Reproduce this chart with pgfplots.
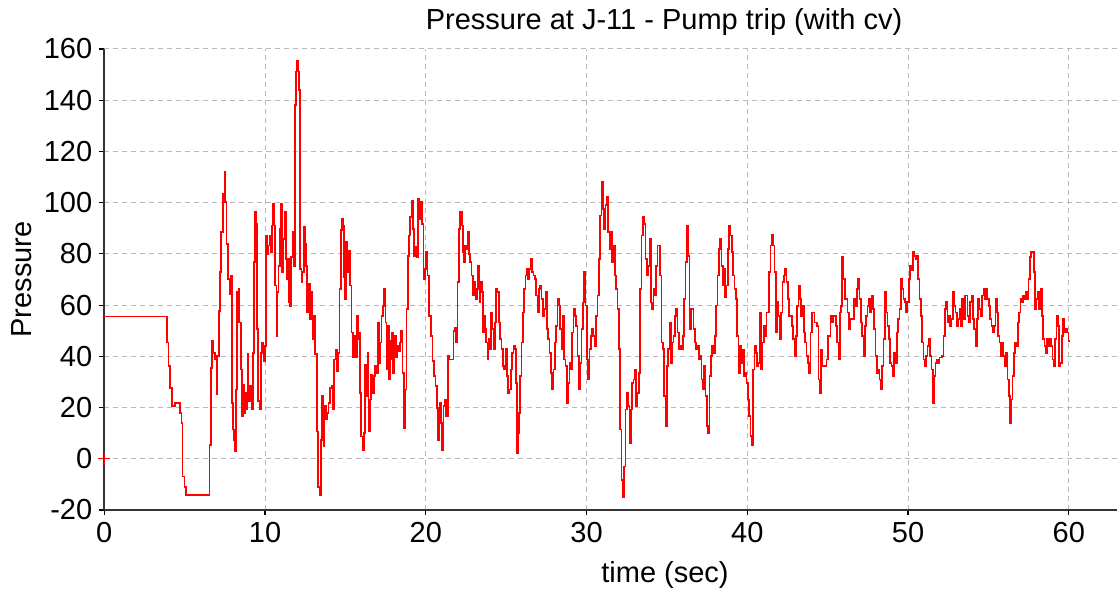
\documentclass[border=0pt]{standalone}
\usepackage{fontspec}
\setmainfont{Liberation Sans}
\usepackage{pgfplots}
\pgfplotsset{compat=1.18}

\begin{document}
\begin{tikzpicture}
\path[use as bounding box] (-52.15pt,-41pt) rectangle (506.35pt,255pt);
\begin{axis}[
    at={(0,0)}, anchor=south west,
    scale only axis,
    width=506.35pt, height=230.5pt,
    xmin=0, xmax=63,
    ymin=-20, ymax=160,
    xtick={0,10,...,60},
    ytick={-20,0,...,160},
    axis x line=bottom,
    axis y line=left,
    axis line style={-, line width=0.9pt, black!80},
    tick align=outside,
    major tick length=2.5pt,
    tick style={black, line width=0.6pt},
    grid=major,
    grid style={dash pattern=on 2.5pt off 2pt, line width=0.5pt, gray!55},
    /pgf/number format/assume math mode=true,
    ticklabel style={font=\fontsize{14.5}{17}\selectfont},
    clip=false,
]
\addplot[const plot, color={rgb,255:red,255;green,0;blue,0}, line width=0.85pt] coordinates {
(0,55.6) (3.88,45.4) (3.99,36.2) (4.09,27.7) (4.19,20.5) (4.40,21.8) (4.71,17.9) (4.81,14.0)
(4.86,-6.9) (4.98,-10.9) (5.08,-14.1)
(6.54,5.5) (6.62,35.5) (6.70,46.0) (6.79,41.4) (6.89,38.8) (6.99,25.1) (7.03,40.1) (7.12,57.8)
(7.20,72.8) (7.26,88.5) (7.37,103.5) (7.47,112.0) (7.53,100.2) (7.61,83.9) (7.70,70.2) (7.78,64.3)
(7.86,71.5) (7.93,21.8) (7.99,11.4) (8.07,7.4) (8.15,2.9) (8.20,27.0) (8.26,65.0) (8.34,66.3)
(8.40,53.2) (8.49,34.9) (8.55,16.6) (8.61,29.0) (8.69,17.9) (8.76,25.7) (8.82,19.2) (8.90,40.8)
(8.96,22.5) (9.07,28.4) (9.15,19.2) (9.23,41.4) (9.30,76.7) (9.36,96.3) (9.44,91.7) (9.50,50.6)
(9.57,22.5) (9.65,19.2) (9.73,41.4) (9.81,45.4) (9.90,38.2) (9.98,44.0) (10.04,87.2) (10.10,80.0)
(10.19,83.3) (10.27,87.2) (10.35,80.6) (10.42,91.1) (10.50,99.6) (10.58,91.1) (10.64,67.6) (10.71,48.0)
(10.77,65.0) (10.83,75.4) (10.91,89.8) (10.99,99.6) (11.06,72.8) (11.14,85.9) (11.22,96.3) (11.29,78.0)
(11.35,70.2) (11.41,78.0) (11.47,61.0) (11.56,59.7) (11.62,78.7) (11.70,88.5) (11.76,82.0) (11.81,75.4)
(11.85,138.2) (11.91,151.2) (11.97,155.2) (12.03,151.2) (12.12,144.0) (12.18,74.1) (12.26,68.9) (12.32,72.8)
(12.41,90.4) (12.47,83.9) (12.53,75.4) (12.59,57.1) (12.70,68.2) (12.80,54.5) (12.88,65.0) (12.95,46.7)
(13.03,55.8) (13.09,40.8) (13.22,10.7) (13.30,-10.9) (13.38,-14.1) (13.46,7.4) (13.55,24.4) (13.63,4.8)
(13.69,20.5) (13.78,15.3) (13.86,17.9) (13.94,21.8) (14.04,27.7) (14.15,28.4) (14.23,19.2) (14.31,38.8)
(14.40,42.7) (14.46,34.2) (14.54,41.4) (14.63,66.3) (14.71,89.2) (14.79,93.7) (14.85,91.1) (14.92,70.8)
(14.98,62.3) (15.04,84.6) (15.12,72.8) (15.21,81.3) (15.29,67.6) (15.37,49.3) (15.46,39.5) (15.54,48.0)
(15.62,39.5) (15.70,55.8) (15.77,46.7) (15.83,49.3) (15.91,25.7) (15.99,8.7) (16.08,3.5) (16.14,10.1)
(16.22,36.8) (16.29,24.4) (16.37,41.4) (16.43,10.7) (16.51,23.1) (16.60,32.9) (16.68,25.7) (16.76,32.3)
(16.85,36.2) (16.93,33.6) (17.01,53.2) (17.09,37.5) (17.16,45.4) (17.24,55.8) (17.32,59.7) (17.41,66.3)
(17.49,53.2) (17.55,34.9) (17.61,51.9) (17.70,31.0) (17.76,46.0) (17.82,38.8) (17.90,49.3) (17.97,33.6)
(18.05,48.0) (18.13,39.5) (18.21,44.0) (18.30,42.1) (18.38,45.4) (18.46,49.9) (18.55,33.6) (18.63,12.0)
(18.71,27.0) (18.80,58.4) (18.88,79.3) (18.94,87.2) (19.02,94.4) (19.11,100.9) (19.19,89.8) (19.27,79.3)
(19.36,82.6) (19.44,78.7) (19.52,101.6) (19.60,93.7) (19.69,100.2) (19.77,91.7) (19.85,70.2) (19.94,74.1)
(20.02,80.6) (20.10,71.5) (20.19,55.8) (20.31,48.0) (20.41,38.2) (20.52,32.3) (20.60,28.4) (20.68,19.9)
(20.77,7.4) (20.85,21.8) (20.93,14.0) (21.02,3.5) (21.10,20.5) (21.18,23.1) (21.26,16.6) (21.37,40.1)
(21.47,38.8) (21.72,49.9) (21.80,51.2) (21.89,45.4) (21.97,68.9) (22.05,89.8) (22.14,96.3) (22.24,91.1)
(22.30,80.6) (22.37,76.7) (22.43,83.3) (22.51,82.0) (22.59,88.5) (22.68,80.0) (22.76,76.7) (22.84,71.5)
(22.92,63.7) (23.01,68.9) (23.09,62.4) (23.17,66.3) (23.26,75.4) (23.34,61.0) (23.40,68.9) (23.49,65.0)
(23.55,49.3) (23.63,55.8) (23.69,50.6) (23.75,45.4) (23.84,38.8) (23.90,46.7) (23.98,42.8) (24.07,57.1)
(24.15,50.6) (24.21,42.8) (24.29,53.2) (24.38,66.3) (24.46,65.0) (24.54,53.2) (24.63,46.7) (24.71,42.8)
(24.79,36.2) (24.87,34.9) (24.96,42.8) (25.04,32.3) (25.12,25.8) (25.21,27.1) (25.29,34.9) (25.37,41.4)
(25.46,44.1) (25.54,42.8) (25.62,29.7) (25.68,2.2) (25.75,10.1) (25.81,17.9) (25.87,32.3) (25.95,45.4)
(26.04,57.1) (26.12,66.3) (26.20,71.5) (26.29,74.1) (26.37,70.2) (26.45,74.1) (26.53,78.0) (26.62,72.8)
(26.70,71.5) (26.78,70.2) (26.87,63.7) (26.95,57.1) (27.03,66.3) (27.12,67.6) (27.20,62.4) (27.28,55.8)
(27.36,58.4) (27.45,65.0) (27.53,50.6) (27.61,46.7) (27.70,41.4) (27.78,33.6) (27.86,27.1) (27.94,34.9)
(28.03,45.4) (28.11,51.9) (28.19,62.4) (28.28,59.8) (28.36,50.6) (28.44,42.8) (28.53,55.8) (28.61,38.8)
(28.69,36.2) (28.77,21.8) (28.86,29.7) (28.94,37.5) (29.02,34.9) (29.11,49.3) (29.19,58.4) (29.27,55.8)
(29.36,51.9) (29.44,40.1) (29.52,27.1) (29.60,37.5) (29.69,50.6) (29.77,61.0) (29.85,72.8) (29.94,59.8)
(30.02,38.8) (30.10,31.0) (30.18,42.8) (30.27,48.0) (30.35,50.6) (30.43,48.0) (30.52,44.1) (30.60,55.8)
(30.68,63.7) (30.77,78.0) (30.85,95.0) (30.93,108.1) (31.01,97.6) (31.10,89.8) (31.18,99.0) (31.26,102.2)
(31.35,88.5) (31.43,82.0) (31.51,88.5) (31.60,76.7) (31.68,83.3) (31.76,71.5) (31.84,66.3) (31.93,58.4)
(32.01,42.8) (32.09,11.4) (32.18,-8.2) (32.26,-14.8) (32.34,-3.0) (32.43,19.2) (32.51,25.8) (32.59,20.5)
(32.67,6.2) (32.76,19.2) (32.84,29.7) (32.92,31.0) (33.01,34.9) (33.09,20.5) (33.17,25.8) (33.26,33.6)
(33.34,66.3) (33.42,87.2) (33.50,94.4) (33.59,91.8) (33.67,78.0) (33.75,71.5) (33.84,75.4) (33.92,85.9)
(34.00,61.0) (34.09,58.4) (34.17,66.3) (34.25,63.7) (34.33,75.4) (34.42,83.3) (34.58,71.5) (34.67,45.4)
(34.75,42.8) (34.83,24.5) (34.91,12.7) (35.00,36.2) (35.08,42.8) (35.16,53.2) (35.25,37.5) (35.33,45.4)
(35.41,48.0) (35.50,55.8) (35.58,58.4) (35.66,49.3) (35.74,42.8) (35.83,44.1) (35.91,42.8) (35.99,48.0)
(36.08,62.4) (36.16,76.7) (36.24,91.1) (36.33,79.3) (36.41,50.6) (36.49,58.4) (36.66,50.6) (36.74,45.4)
(36.82,42.8) (36.91,44.1) (36.99,38.8) (37.07,40.1) (37.15,31.0) (37.24,27.1) (37.32,36.2) (37.40,24.5)
(37.49,12.7) (37.57,10.1) (37.65,32.3) (37.74,40.1) (37.82,44.1) (37.90,41.4) (37.98,48.0) (38.07,59.8)
(38.15,71.5) (38.23,82.0) (38.31,85.9) (38.39,75.4) (38.48,67.6) (38.56,74.1) (38.62,63.0) (38.70,67.6)
(38.79,82.0) (38.87,91.1) (38.95,87.2) (39.04,80.6) (39.12,71.5) (39.20,66.3) (39.28,62.4) (39.37,48.0)
(39.45,33.6) (39.53,44.1) (39.62,37.5) (39.70,42.7) (39.78,32.3) (39.87,33.6) (39.95,29.7) (40.03,23.1)
(40.11,16.6) (40.20,8.8) (40.28,5.5) (40.36,34.9) (40.45,44.1) (40.53,41.4) (40.61,36.2) (40.70,37.5)
(40.78,57.1) (40.86,34.9) (40.94,45.4) (41.03,51.9) (41.11,48.0) (41.19,57.1) (41.36,72.8) (41.44,83.3)
(41.53,87.5) (41.61,83.3) (41.69,72.8) (41.77,49.3) (41.86,61.1) (41.94,55.8) (42.02,46.7) (42.11,57.1)
(42.19,68.9) (42.27,71.5) (42.36,74.1) (42.44,68.9) (42.52,62.4) (42.60,55.8) (42.77,51.9) (42.85,46.7)
(42.94,40.1) (43.02,48.0) (43.10,59.7) (43.18,67.6) (43.27,62.4) (43.35,55.8) (43.43,59.7) (43.52,49.3)
(43.60,45.4) (43.68,40.1) (43.77,37.5) (43.85,33.6) (43.93,49.3) (44.01,57.1) (44.18,53.2) (44.35,51.9)
(44.43,31.0) (44.51,25.7) (44.60,42.7) (44.68,36.2) (44.93,38.8) (45.01,48.0) (45.18,55.8) (45.26,53.2)
(45.34,55.8) (45.51,51.9) (45.59,45.4) (45.67,38.8) (45.76,57.1) (45.84,59.7) (45.90,78.7) (45.98,70.2)
(46.07,62.4) (46.23,57.1) (46.32,50.6) (46.40,54.5) (46.65,62.4) (46.73,59.7) (46.81,66.3) (46.90,70.2)
(46.98,62.4) (47.06,53.2) (47.15,48.0) (47.23,40.1) (47.31,51.9) (47.39,55.8) (47.48,59.7) (47.56,62.4)
(47.64,57.1) (47.73,63.7) (47.81,58.4) (47.89,50.6) (47.98,40.1) (48.06,33.6) (48.14,34.9) (48.22,31.0)
(48.31,27.1) (48.39,36.2) (48.47,46.7) (48.56,65.0) (48.64,57.1) (48.72,51.9) (48.81,46.7) (48.89,37.5)
(48.97,36.2) (49.05,32.3) (49.14,41.4) (49.22,37.5) (49.30,49.3) (49.39,54.5) (49.47,58.4) (49.55,70.2)
(49.64,66.3) (49.72,62.4) (49.80,61.1) (49.88,57.1) (49.97,61.1) (50.05,70.2) (50.13,75.4) (50.22,73.5)
(50.30,80.7) (50.38,79.3) (50.46,78.0) (50.55,79.3) (50.63,70.2) (50.71,62.4) (50.80,55.8) (50.88,45.4)
(50.96,38.8) (51.05,36.2) (51.13,40.1) (51.21,44.1) (51.29,46.7) (51.38,40.1) (51.46,34.9) (51.54,21.8)
(51.63,32.3) (51.71,37.5) (51.79,38.8) (51.87,37.5) (51.96,39.5) (52.12,40.1) (52.21,48.0) (52.29,58.4)
(52.37,61.1) (52.46,53.2) (52.54,55.8) (52.62,51.9) (52.70,54.5) (52.79,65.0) (52.87,59.7) (52.95,57.1)
(53.04,51.9) (53.12,54.5) (53.20,58.4) (53.29,51.9) (53.37,62.4) (53.45,54.5) (53.53,63.7) (53.70,55.8)
(53.78,53.2) (53.87,61.1) (53.95,63.7) (54.03,54.5) (54.12,50.6) (54.20,44.1) (54.28,54.5) (54.36,62.4)
(54.45,58.4) (54.53,55.8) (54.61,63.7) (54.70,66.3) (54.78,62.4) (54.86,66.3) (54.95,62.4) (55.03,59.7)
(55.11,54.5) (55.19,51.9) (55.28,49.3) (55.36,51.9) (55.44,62.4) (55.53,57.1) (55.61,48.0) (55.69,45.4)
(55.77,40.1) (55.86,45.4) (55.94,40.1) (56.02,36.2) (56.11,41.4) (56.19,31.0) (56.27,24.4) (56.34,14.0)
(56.42,23.1) (56.50,32.3) (56.58,41.4) (56.67,45.4) (56.75,44.1) (56.83,53.2) (56.92,57.1) (57.00,62.4)
(57.08,61.1) (57.16,63.7) (57.25,62.4) (57.33,65.0) (57.41,62.4) (57.50,70.2) (57.58,78.7) (57.66,80.7)
(57.83,72.8) (57.91,58.4) (57.99,62.4) (58.08,65.0) (58.16,58.4) (58.24,66.3) (58.33,55.8) (58.41,46.7)
(58.49,44.1) (58.57,41.4) (58.66,46.7) (58.74,44.1) (58.82,46.7) (58.91,44.1) (58.99,38.8) (59.07,36.2)
(59.15,46.7) (59.24,55.8) (59.32,51.9) (59.40,36.2) (59.49,37.5) (59.57,48.0) (59.65,54.5) (59.74,49.3)
(59.82,50.6) (59.90,49.3) (59.99,46.0) (60.00,46.0)
};
% red cross marker on the y axis at zero
\addplot[color={rgb,255:red,255;green,0;blue,0}, only marks, mark=+, mark size=3pt, line width=0.6pt] coordinates {(0,0)};
\end{axis}
\node[anchor=base, font=\fontsize{14.5}{17}\selectfont] at (279.85pt,240pt) {Pressure at J-11 - Pump trip (with cv)};
\node[anchor=base, font=\fontsize{14.5}{17}\selectfont] at (280.35pt,-36.5pt) {time (sec)};
\node[anchor=base, rotate=90, font=\fontsize{14.5}{17}\selectfont] at (-36.5pt,115.25pt) {Pressure};
\end{tikzpicture}
\end{document}
